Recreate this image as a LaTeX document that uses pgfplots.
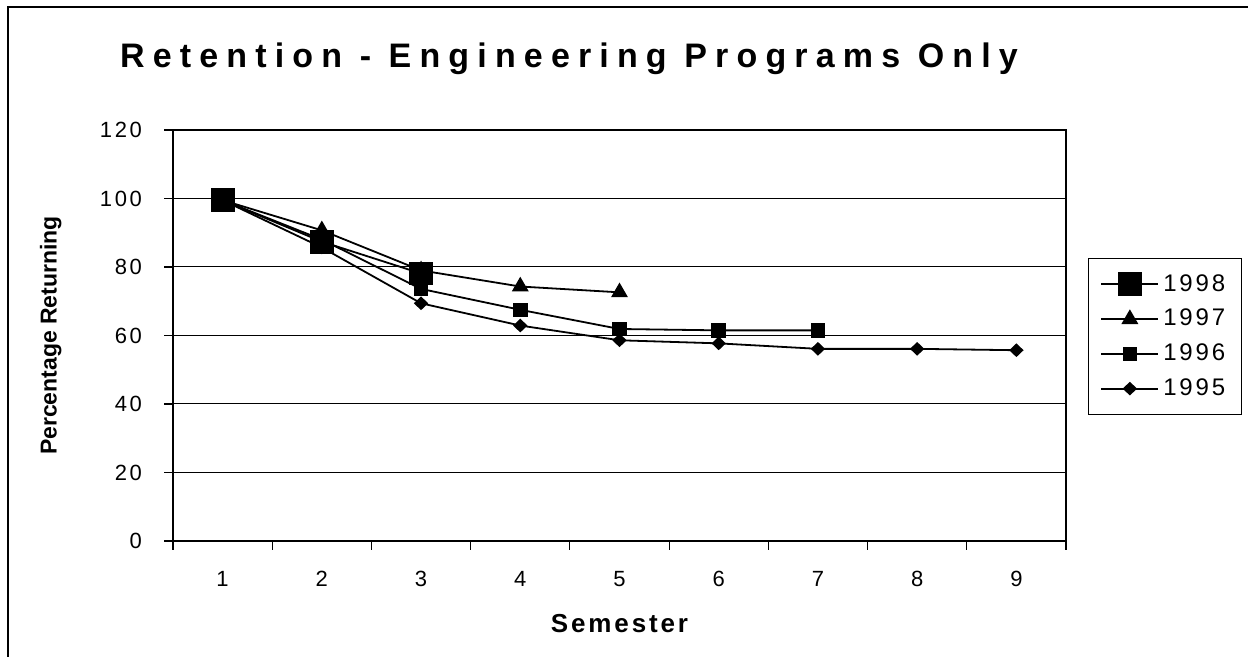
\documentclass[border=0pt]{standalone}
\usepackage{fontspec}
\setmainfont{Liberation Sans}
\newfontfamily\titlefont{Liberation Sans}[LetterSpace=24]
\newfontfamily\tickfont{Liberation Sans}[LetterSpace=12]
\newfontfamily\legfont{Liberation Sans}[LetterSpace=12]
\newfontfamily\xlabfont{Liberation Sans}[LetterSpace=11]
\usepackage{pgfplots}
\pgfplotsset{compat=1.18}

\pgfplotstableread{
x y
1 99.5
2 85.7
3 69.4
4 62.9
5 58.6
6 57.7
7 56.1
8 56.1
9 55.7
}\tableA
\pgfplotstableread{
x y
1 99.5
2 88.0
3 73.6
4 67.5
5 61.9
6 61.5
7 61.5
}\tableB
\pgfplotstableread{
x y
1 99.5
2 90.7
3 79.0
4 74.3
5 72.6
}\tableC
\pgfplotstableread{
x y
1 99.5
2 87.4
3 78.1
}\tableD

\begin{document}
\begin{tikzpicture}
\useasboundingbox (0,0) rectangle (624pt,328.5pt);
\fill[white] (0,0) rectangle (624pt,328.5pt);
\draw[line width=1pt] (4pt,0) -- (4pt,325pt) -- (624pt,325pt);
\node[font=\titlefont\fontsize{17}{20}\bfseries\selectfont] at (284.5pt,299pt) {Retention - Engineering Programs Only};
\begin{axis}[
  at={(86.5pt,58pt)}, anchor=south west,
  scale only axis, width=446.5pt, height=205.5pt,
  xmin=0.5, xmax=9.5, ymin=0, ymax=120,
  ytick={0,20,...,120},
  yticklabel={\tickfont\fontsize{11}{13}\selectfont\pgfmathprintnumber{\tick}\hspace*{7.5pt}},
  xtick={0.5,1.5,...,9.5}, xticklabels={},
  extra x ticks={1,2,...,9},
  extra x tick labels={1,2,3,4,5,6,7,8,9},
  extra x tick style={tick style={draw=none}},
  tick align=outside, major tick length=4.5pt,
  xtick pos=bottom, ytick pos=left,
  ymajorgrids, grid style={black, line width=0.5pt},
  axis line style={black, line width=1pt},
  tick style={black, line width=0.6pt},
  /pgf/number format/assume math mode=true,
  tick label style={font=\tickfont\fontsize{11}{13}\selectfont},
  xticklabel style={yshift=-7pt},
  xlabel={Semester},
  xlabel style={font=\xlabfont\fontsize{13}{15}\bfseries\selectfont, at={(axis description cs:0.5,-0.2)}, anchor=center},
  ylabel={Percentage Returning},
  ylabel style={font=\fontsize{11.5}{14}\bfseries\selectfont, at={(axis description cs:-0.137,0.5)}, anchor=center},
  legend image code/.code={\draw[mark repeat=2,mark phase=2] plot coordinates {(0pt,0pt) (14.25pt,0pt) (28.5pt,0pt)};},
  reverse legend,
  legend style={at={(1.0246,0.6886)}, anchor=north west, draw=black, line width=0.5pt,
    font=\legfont\fontsize{12}{14}\selectfont, row sep=3.5pt, inner xsep=6pt, inner ysep=6pt,
    cells={anchor=west}},
  every axis plot/.append style={black, line width=0.9pt},
]
\addplot[mark=diamond*, mark size=2.8pt, mark options={xscale=1.4, solid}] table[x=x,y=y] {\tableA};
\addlegendentry{1995}
\addplot[mark=square*, mark size=3.2pt, mark options={solid}] table[x=x,y=y] {\tableB};
\addlegendentry{1996}
\addplot[mark=triangle*, mark size=4pt, mark options={solid}] table[x=x,y=y] {\tableC};
\addlegendentry{1997}
\addplot[mark=square*, mark size=5.5pt, mark options={solid}] table[x=x,y=y] {\tableD};
\addlegendentry{1998}
\end{axis}
\end{tikzpicture}
\end{document}
